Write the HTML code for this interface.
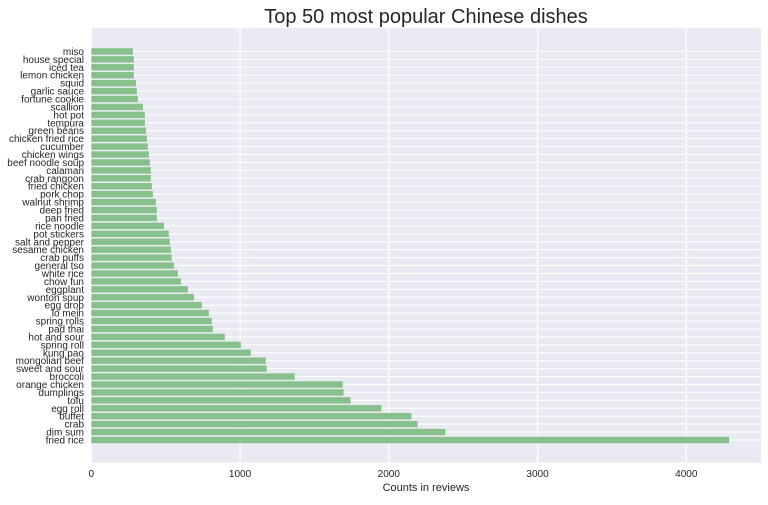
<!DOCTYPE html>
<html><head><meta charset="utf-8"><style>
body{margin:0;background:#fff;font-family:"Liberation Sans",Arial,sans-serif;}
svg text{font-family:"Liberation Sans",Arial,sans-serif;fill:#262626;}
</style></head><body>
<svg width="768" height="500" viewBox="0 0 768 500">
<text x="426" y="23" font-size="20" text-anchor="middle">Top 50 most popular Chinese dishes</text>
<rect x="91.3" y="28" width="669.7" height="434.7" fill="#eaeaf2"/>
<g id="grid"></g><g id="bars"></g><g id="ylabels"></g><g id="xticks"></g>
<text x="426" y="491" font-size="11" text-anchor="middle">Counts in reviews</text>
</svg>
<script>
const dishes=["fried rice","dim sum","crab","buffet","egg roll","tofu","dumplings","orange chicken","broccoli","sweet and sour","mongolian beef","kung pao","spring roll","hot and sour","pad thai","spring rolls","lo mein","egg drop","wonton soup","eggplant","chow fun","white rice","general tso","crab puffs","sesame chicken","salt and pepper","pot stickers","rice noodle","pan fried","deep fried","walnut shrimp","pork chop","fried chicken","crab rangoon","calamari","beef noodle soup","chicken wings","cucumber","chicken fried rice","green beans","tempura","hot pot","scallion","fortune cookie","garlic sauce","squid","lemon chicken","iced tea","house special","miso"];
const counts=[4287,2380,2193,2152,1950,1743,1696,1690,1367,1180,1173,1072,1005,897,817,810,790,743,690,649,602,582,555,541,535,528,521,488,441,441,434,414,407,400,400,394,387,380,374,367,360,360,347,313,306,300,286,286,286,280];
const xTicks=[0,1000,2000,3000,4000];
const NS="http://www.w3.org/2000/svg";
const x0=91.3,kx=0.14875;
const X=v=>x0+v*kx;
const Y=i=>440-i*7.93;
function mk(t,a,p){const e=document.createElementNS(NS,t);for(const k in a)e.setAttribute(k,a[k]);document.getElementById(p).appendChild(e);return e;}
xTicks.forEach(t=>{
 const l=mk('line',{x1:X(t),x2:X(t),y1:28,y2:462.7,stroke:'#fff','stroke-width':1.2},'grid');
 
 
 const tx=mk('text',{x:X(t),y:477,'font-size':10,'text-anchor':'middle'},'xticks');
 tx.textContent=t;
 
 
});
dishes.forEach((d,i)=>{
 const g=mk('line',{x1:x0,x2:761,y1:Y(i),y2:Y(i),stroke:'#fff','stroke-width':1},'grid');
 
 
 const r=mk('rect',{x:x0,y:Y(i)-3.2,width:counts[i]*kx,height:6.4,fill:'#88c08b'},'bars');
 
 
 const t=mk('text',{x:84,y:Y(i)+3.5,'font-size':10,'text-anchor':'end'},'ylabels');
 t.textContent=d;
 
 
});
</script>
</body></html>
